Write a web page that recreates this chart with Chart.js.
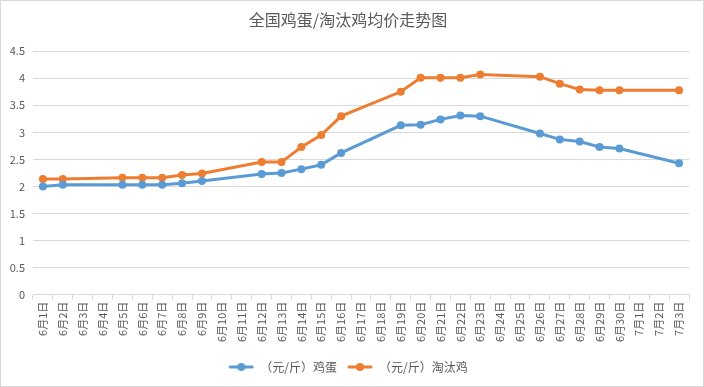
<!DOCTYPE html>
<html>
<head>
<meta charset="utf-8">
<script src="https://cdn.jsdelivr.net/npm/chart.js@4.4.0/dist/chart.umd.min.js"></script>
<style>
  html, body { margin: 0; padding: 0; background: #fff; }
  #wrap { width: 702px; height: 385px; border: 1px solid #d9d9d9; position: relative; }
</style>
</head>
<body>
<div id="wrap"><canvas id="chart" width="702" height="385"></canvas></div>
<script>
// Catégories : 6月1日 ... 7月3日
const categories = [
  '6月1日','6月2日','6月3日','6月4日','6月5日','6月6日','6月7日','6月8日','6月9日','6月10日',
  '6月11日','6月12日','6月13日','6月14日','6月15日','6月16日','6月17日','6月18日','6月19日','6月20日',
  '6月21日','6月22日','6月23日','6月24日','6月25日','6月26日','6月27日','6月28日','6月29日','6月30日',
  '7月1日','7月2日','7月3日'
];

// (元/斤) 鸡蛋
const eggPrices = [
  2.00, 2.03, null, null, 2.03, 2.03, 2.03, 2.06, 2.10, null,
  null, 2.23, 2.25, 2.32, 2.40, 2.62, null, null, 3.13, 3.14,
  3.24, 3.31, 3.30, null, null, 2.98, 2.87, 2.83, 2.73, 2.70,
  null, null, 2.43
];

// (元/斤) 淘汰鸡
const henPrices = [
  2.14, 2.14, null, null, 2.16, 2.16, 2.16, 2.21, 2.24, null,
  null, 2.45, 2.45, 2.73, 2.95, 3.30, null, null, 3.75, 4.01,
  4.01, 4.01, 4.07, null, null, 4.03, 3.90, 3.79, 3.78, 3.78,
  null, null, 3.78
];

const yTicks = [0, 0.5, 1, 1.5, 2, 2.5, 3, 3.5, 4, 4.5];

const seriesNames = ['（元/斤）鸡蛋', '（元/斤）淘汰鸡'];
const colors = ['#5b9bd5', '#ed7d31'];

const FONT = '"Noto Sans CJK SC", "Noto Sans", sans-serif';
const TEXT = '#595959';

// Marqueur de légende : trait + point
function legendMarker(color) {
  const c = document.createElement('canvas');
  c.width = 26; c.height = 10;
  const ctx = c.getContext('2d');
  ctx.strokeStyle = color;
  ctx.lineWidth = 3;
  ctx.lineCap = 'round';
  ctx.beginPath(); ctx.moveTo(2, 5); ctx.lineTo(24, 5); ctx.stroke();
  ctx.fillStyle = color;
  ctx.beginPath(); ctx.arc(13, 5, 4, 0, Math.PI * 2); ctx.fill();
  return c;
}

const markers = colors.map(legendMarker);

new Chart(document.getElementById('chart'), {
  type: 'line',
  data: {
    labels: categories,
    datasets: [eggPrices, henPrices].map((data, i) => ({
      label: seriesNames[i],
      data: data,
      borderColor: colors[i],
      backgroundColor: colors[i],
      borderWidth: 3,
      pointRadius: 4,
      pointHoverRadius: 4,
      pointBorderWidth: 0,
      spanGaps: true,
      tension: 0
    }))
  },
  options: {
    responsive: false,
    animation: false,
    devicePixelRatio: 1,
    layout: { padding: { left: 6, right: 14, top: 0, bottom: 3 } },
    scales: {
      x: {
        offset: true,
        afterFit: axis => { axis.height += 7; },
        grid: {
          offset: true,
          drawOnChartArea: false,
          drawTicks: true,
          tickLength: 5,
          color: '#d9d9d9'
        },
        border: { color: '#d9d9d9' },
        ticks: {
          autoSkip: false,
          maxRotation: 90,
          minRotation: 90,
          color: TEXT,
          font: { family: FONT, size: 11 },
          padding: 2
        }
      },
      y: {
        min: 0,
        max: 4.5,
        afterBuildTicks: axis => { axis.ticks = yTicks.map(v => ({ value: v })); },
        afterFit: axis => { axis.width = 26; },
        grid: { color: '#d9d9d9', drawTicks: false },
        border: { display: false },
        ticks: {
          color: TEXT,
          font: { family: FONT, size: 11 },
          padding: 8,
          callback: v => String(v)
        }
      }
    },
    plugins: {
      title: {
        display: true,
        text: '全国鸡蛋/淘汰鸡均价走势图',
        color: TEXT,
        font: { family: FONT, size: 16, weight: 'normal' },
        padding: { top: 9, bottom: 22 }
      },
      legend: {
        position: 'bottom',
        labels: {
          color: TEXT,
          font: { family: FONT, size: 12 },
          usePointStyle: true,
          pointStyleWidth: 26,
          padding: 10,
          generateLabels: chart => chart.data.datasets.map((ds, i) => ({
            text: ds.label,
            pointStyle: markers[i],
            fillStyle: ds.borderColor,
            strokeStyle: ds.borderColor,
            fontColor: TEXT,
            lineWidth: 0,
            datasetIndex: i
          }))
        }
      },
      tooltip: { enabled: false }
    }
  }
});
</script>
</body>
</html>
